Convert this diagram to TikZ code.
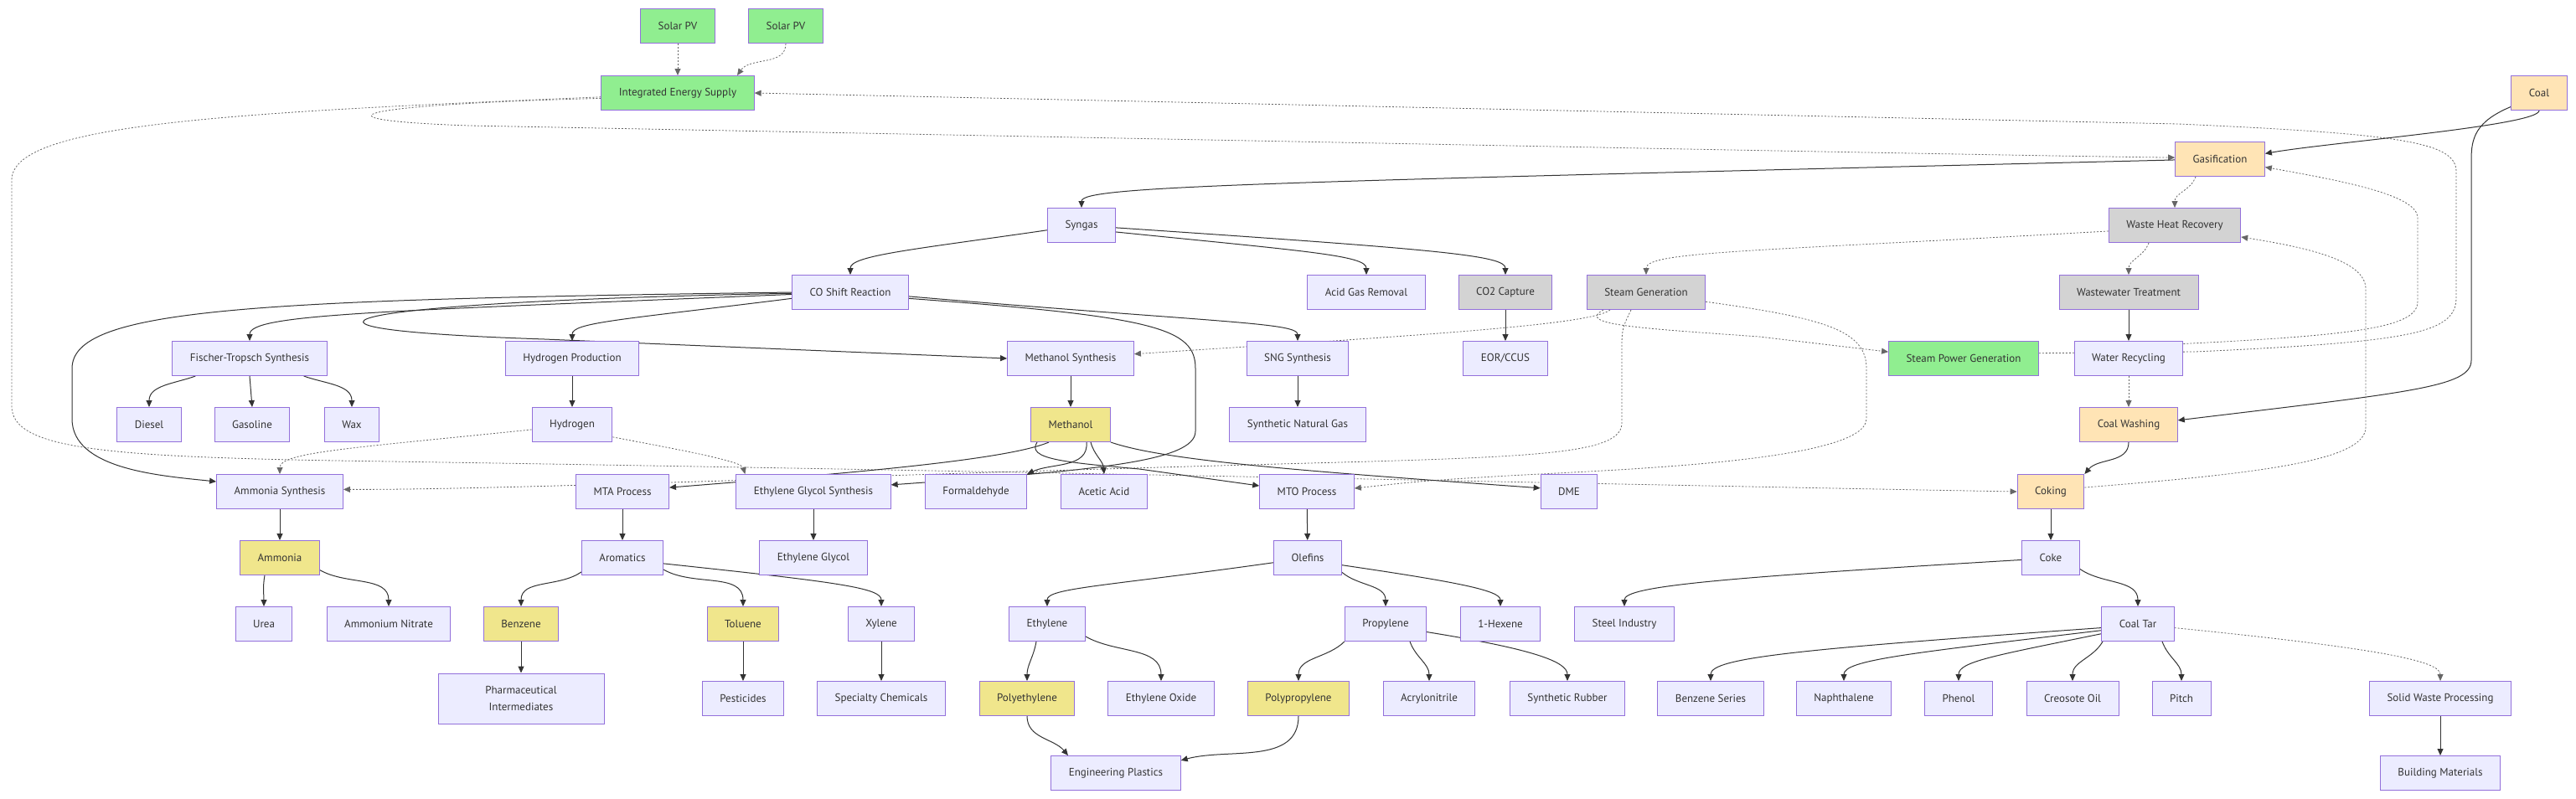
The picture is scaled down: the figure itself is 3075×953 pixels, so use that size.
\documentclass[tikz,border=0pt]{standalone}
\usepackage{fontspec}
\setmainfont{PT Sans}
\usepackage{xcolor}
\usepackage{tikz}
\usetikzlibrary{arrows.meta}
\definecolor{procfill}{HTML}{ECECFF}
\definecolor{procline}{HTML}{9370DB}
\definecolor{energyfill}{HTML}{90EE90}
\definecolor{feedfill}{HTML}{FFE4B5}
\definecolor{utilfill}{HTML}{D3D3D3}
\definecolor{productfill}{HTML}{F0E68C}
\definecolor{textgray}{HTML}{333333}
\definecolor{linegray}{HTML}{333333}
\definecolor{dotgray}{HTML}{666666}
\pgfdeclarelayer{edges}
\pgfsetlayers{edges,main}
\tikzset{
    box/.style={draw=procline, line width=1pt, rectangle, minimum height=41pt, inner xsep=21pt, inner ysep=0pt, text=textgray, font=\fontsize{13}{15}\selectfont},
    proc/.style={box, fill=procfill},
    energy/.style={box, fill=energyfill},
    feed/.style={box, fill=feedfill},
    util/.style={box, fill=utilfill},
    product/.style={box, fill=productfill},
    arrow/.style={draw=linegray, line width=1pt, -{Triangle[length=8pt,width=7pt]}},
    dotarrow/.style={draw=dotgray, line width=0.8pt, dash pattern=on 2pt off 2pt, -{Triangle[length=8pt,width=7pt]}}
}

\begin{document}
\begin{tikzpicture}[x=1pt, y=1pt]
\useasboundingbox (0,0) rectangle (3075,-953);

\node [energy]  (solarA)     at (809,-31)   {Solar PV};
\node [energy]  (solarB)     at (938,-31)   {Solar PV};
\node [energy]  (ies)        at (809,-111)  {Integrated Energy Supply};
\node [feed]    (coal)       at (3031,-111) {Coal};
\node [feed]    (gasif)      at (2650,-190) {Gasification};
\node [proc]    (syngas)     at (1291,-269) {Syngas};
\node [util]    (whr)        at (2596,-269) {Waste Heat Recovery};

\node [proc]    (coshift)    at (1015,-349) {CO Shift Reaction};
\node [proc]    (acidgas)    at (1631,-349) {Acid Gas Removal};
\node [util]    (cocap)      at (1797,-349) {CO2 Capture};
\node [util]    (steamgen)   at (1965,-349) {Steam Generation};
\node [util]    (wwt)        at (2541,-349) {Wastewater Treatment};

\node [proc]    (ftsyn)      at (298,-428)  {Fischer-Tropsch Synthesis};
\node [proc]    (h2prod)     at (683,-428)  {Hydrogen Production};
\node [proc]    (meohsyn)    at (1278,-428) {Methanol Synthesis};
\node [proc]    (sngsyn)     at (1549,-428) {SNG Synthesis};
\node [proc]    (eor)        at (1797,-428) {EOR/CCUS};
\node [energy]  (spg)        at (2344,-428) {Steam Power Generation};
\node [proc]    (waterrec)   at (2541,-428) {Water Recycling};

\node [proc]    (diesel)     at (178,-507)  {Diesel};
\node [proc]    (gasoline)   at (301,-507)  {Gasoline};
\node [proc]    (wax)        at (420,-507)  {Wax};
\node [proc]    (hydrogen)   at (683,-507)  {Hydrogen};
\node [product] (methanol)   at (1278,-507) {Methanol};
\node [proc]    (sng)        at (1549,-507) {Synthetic Natural Gas};
\node [feed]    (coalwash)   at (2541,-507) {Coal Washing};

\node [proc]    (nh3syn)     at (334,-587)  {Ammonia Synthesis};
\node [proc]    (mta)        at (743,-587)  {MTA Process};
\node [proc]    (egsyn)      at (971,-587)  {Ethylene Glycol Synthesis};
\node [proc]    (hcho)       at (1165,-587) {Formaldehyde};
\node [proc]    (acetic)     at (1318,-587) {Acetic Acid};
\node [proc]    (mto)        at (1560,-587) {MTO Process};
\node [proc]    (dme)        at (1873,-587) {DME};
\node [feed]    (coking)     at (2448,-587) {Coking};

\node [product] (ammonia)    at (334,-666)  {Ammonia};
\node [proc]    (aromatics)  at (743,-666)  {Aromatics};
\node [proc]    (eg)         at (971,-666)  {Ethylene Glycol};
\node [proc]    (olefins)    at (1561,-666) {Olefins};
\node [proc]    (coke)       at (2448,-666) {Coke};

\node [proc]    (urea)       at (315,-745)  {Urea};
\node [proc]    (an)         at (464,-745)  {Ammonium Nitrate};
\node [product] (benzene)    at (622,-745)  {Benzene};
\node [product] (toluene)    at (887,-745)  {Toluene};
\node [proc]    (xylene)     at (1052,-745) {Xylene};
\node [proc]    (ethylene)   at (1250,-745) {Ethylene};
\node [proc]    (propylene)  at (1654,-745) {Propylene};
\node [proc]    (hexene)     at (1791,-745) {1-Hexene};
\node [proc]    (steel)      at (1939,-745) {Steel Industry};
\node [proc]    (coaltar)    at (2552,-745) {Coal Tar};

\node [proc, minimum width=198pt, minimum height=60pt, align=center, font=\fontsize{13}{20}\selectfont]
                (pharma)     at (622,-834)  {Pharmaceutical\\Intermediates};
\node [proc]    (pesticides) at (887,-834)  {Pesticides};
\node [proc]    (specchem)   at (1052,-834) {Specialty Chemicals};
\node [product] (pe)         at (1226,-834) {Polyethylene};
\node [proc]    (eo)         at (1386,-834) {Ethylene Oxide};
\node [product] (pp)         at (1550,-834) {Polypropylene};
\node [proc]    (acn)        at (1706,-834) {Acrylonitrile};
\node [proc]    (rubber)     at (1871,-834) {Synthetic Rubber};
\node [proc]    (bzseries)   at (2042,-834) {Benzene Series};
\node [proc]    (naph)       at (2201,-834) {Naphthalene};
\node [proc]    (phenol)     at (2338,-834) {Phenol};
\node [proc]    (creosote)   at (2474,-834) {Creosote Oil};
\node [proc]    (pitch)      at (2604,-834) {Pitch};
\node [proc]    (swp)        at (2913,-834) {Solid Waste Processing};

\node [proc]    (plastics)   at (1332,-923) {Engineering Plastics};
\node [proc]    (buildmat)   at (2913,-923) {Building Materials};

\begin{pgfonlayer}{edges}
\draw [dotarrow] (solarA) -- (ies);
\draw [dotarrow] (solarB.south) to[out=-90, in=55] ([xshift=71pt]ies.north);
\draw [dotarrow] (ies.184) .. controls (420,-125) and (360,-143) .. (560,-150) .. controls (1500,-168) and (2400,-186) .. (gasif.178);
\draw [dotarrow] (ies.183) .. controls (250,-135) and (14,-150) .. (14,-215) -- (14,-485) .. controls (14,-535) and (120,-545) .. (400,-550) .. controls (1200,-562) and (2000,-580) .. (coking.west);
\draw [dotarrow] (spg.4) -- (2620,-420) .. controls (2880,-408) and (2932,-398) .. (2932,-355) -- (2932,-205) .. controls (2932,-170) and (2870,-160) .. (2600,-148) -- (ies.east);

\draw [arrow] (coal.south) .. controls (3031,-150) and (2780,-170) .. (gasif.7);
\draw [arrow] (coal.206) .. controls (2955,-145) and (2950,-165) .. (2950,-190) -- (2950,-430) .. controls (2950,-462) and (2880,-468) .. (coalwash.5);
\draw [arrow] (gasif.181) .. controls (1500,-218) and (1291,-222) .. (syngas.north);
\draw [dotarrow] ([xshift=-29pt]gasif.south) to[out=-110, in=90] (whr.north);
\draw [dotarrow] (whr.185) .. controls (2100,-300) and (1965,-300) .. (steamgen.north);
\draw [dotarrow] ([xshift=-31pt]whr.south) to[out=-110, in=90] (wwt.north);

\draw [arrow] (syngas.188) .. controls (1090,-298) and (1015,-305) .. (coshift.north);
\draw [arrow] (syngas.-11) .. controls (1560,-300) and (1631,-305) .. (acidgas.north);
\draw [arrow] (syngas.-4) .. controls (1720,-298) and (1797,-305) .. (cocap.north);

\draw [arrow] (coshift.182) .. controls (450,-372) and (298,-375) .. (ftsyn.north);
\draw [arrow] (coshift.186) .. controls (740,-382) and (683,-385) .. (h2prod.north);
\draw [arrow] (coshift.181) .. controls (420,-360) and (260,-392) .. (650,-405) -- (meohsyn.west);
\draw [arrow] (coshift.-4) .. controls (1450,-385) and (1549,-385) .. (sngsyn.north);
\draw [arrow] (coshift.180) .. controls (300,-358) and (86,-368) .. (86,-440) -- (86,-500) .. controls (86,-560) and (190,-568) .. (nh3syn.171);
\draw [arrow] (coshift.-6) .. controls (1380,-378) and (1427,-392) .. (1427,-440) -- (1427,-515) .. controls (1427,-552) and (1300,-562) .. (egsyn.5);

\draw [dotarrow] ([xshift=-43pt]steamgen.south) .. controls (1900,-388) and (1700,-400) .. (meohsyn.4);
\draw [dotarrow] ([xshift=-51pt]steamgen.south) .. controls (1880,-388) and (1960,-392) .. (2100,-402) -- (spg.175);
\draw [dotarrow] ([xshift=-18pt]steamgen.south) .. controls (1940,-385) and (1936,-390) .. (1936,-410) -- (1936,-505) .. controls (1936,-540) and (1850,-545) .. (1600,-552) .. controls (1000,-568) and (600,-585) .. (nh3syn.2);
\draw [dotarrow] (steamgen.-9) .. controls (2180,-380) and (2228,-395) .. (2228,-440) -- (2228,-500) .. controls (2228,-550) and (1950,-560) .. (1800,-568) .. controls (1700,-574) .. (mto.4);

\draw [arrow] (cocap) -- (eor);
\draw [arrow] (wwt) -- (waterrec);
\draw [dotarrow] (waterrec) -- (coalwash);
\draw [dotarrow] (waterrec.15) .. controls (2820,-400) and (2886,-390) .. (2886,-360) -- (2886,-260) .. controls (2886,-232) and (2790,-215) .. (gasif.-10);
\draw [arrow] (coalwash.south) to[out=-90, in=50] (coking.north east);
\draw [dotarrow] (coking.7) .. controls (2700,-565) and (2824,-550) .. (2824,-510) -- (2824,-345) .. controls (2824,-310) and (2750,-295) .. (whr.-10);

\draw [arrow] (ftsyn.198) to[out=200, in=90] (diesel.north);
\draw [arrow] (ftsyn.south) -- (gasoline.north);
\draw [arrow] (ftsyn.-18) to[out=-20, in=90] (wax.north);
\draw [arrow] (h2prod) -- (hydrogen);
\draw [dotarrow] (hydrogen.187) .. controls (420,-535) and (334,-540) .. (nh3syn.north);
\draw [dotarrow] (hydrogen.-17) .. controls (800,-535) and (885,-550) .. ([xshift=11pt]egsyn.north west);
\draw [arrow] (meohsyn) -- (methanol);
\draw [arrow] (sngsyn) -- (sng);

\draw [arrow] ([xshift=-26pt]methanol.south) .. controls (1200,-550) and (1000,-566) .. (mta.5);
\draw [arrow] ([xshift=19pt]methanol.south) to[out=-85, in=25] (hcho.north east);
\draw [arrow] ([xshift=24pt]methanol.south) to[out=-75, in=95] (acetic.north);
\draw [arrow] ([xshift=-40pt]methanol.south) .. controls (1225,-548) and (1270,-552) .. (1360,-560) -- (mto.173);
\draw [arrow] (methanol.south east) .. controls (1390,-550) and (1550,-562) .. (dme.173);

\draw [arrow] (nh3syn) -- (ammonia);
\draw [arrow] ([xshift=-18pt]ammonia.south) to[out=-100, in=90] (urea.north);
\draw [arrow] (ammonia.-17) to[out=-30, in=90] (an.north);
\draw [arrow] (mta) -- (aromatics);
\draw [arrow] (aromatics.199) to[out=-145, in=90] (benzene.north);
\draw [arrow] (aromatics.-16) to[out=-30, in=90] (toluene.north);
\draw [arrow] (aromatics.-8) .. controls (1000,-695) and (1052,-702) .. (xylene.north);
\draw [arrow] (benzene) -- (pharma);
\draw [arrow] (toluene) -- (pesticides);
\draw [arrow] (xylene) -- (specchem);
\draw [arrow] (egsyn) -- (eg);

\draw [arrow] (mto) -- (olefins);
\draw [arrow] (olefins.188) .. controls (1320,-700) and (1250,-702) .. (ethylene.north);
\draw [arrow] (olefins.-23) to[out=-40, in=90] (propylene.north);
\draw [arrow] (olefins.-12) .. controls (1740,-695) and (1791,-705) .. (hexene.north);
\draw [arrow] ([xshift=-13pt]ethylene.south) to[out=-100, in=90] (pe.north);
\draw [arrow] (ethylene.-18) to[out=-30, in=90] (eo.north);
\draw [arrow] (propylene.south west) to[out=-135, in=90] (pp.north);
\draw [arrow] ([xshift=29pt]propylene.south) to[out=-70, in=90] (acn.north);
\draw [arrow] (propylene.-11) .. controls (1830,-775) and (1871,-790) .. (rubber.north);
\draw [arrow] (pe.south) to[out=-90, in=130] ([xshift=-57pt]plastics.north);
\draw [arrow] (pp.south) to[out=-90, in=15] (plastics.11);

\draw [arrow] (coking) -- (coke);
\draw [arrow] (coke.184) .. controls (2050,-690) and (1939,-700) .. (steel.north);
\draw [arrow] (coke.-21) to[out=-35, in=90] (coaltar.north);
\draw [arrow] (coaltar.186) .. controls (2150,-775) and (2042,-785) .. (bzseries.north);
\draw [arrow] (coaltar.190) .. controls (2280,-780) and (2201,-788) .. (naph.north);
\draw [arrow] (coaltar.195) .. controls (2380,-783) and (2338,-790) .. (phenol.north);
\draw [arrow] ([xshift=-42pt]coaltar.south) to[out=-120, in=90] (creosote.north);
\draw [arrow] ([xshift=29pt]coaltar.south) to[out=-70, in=90] (pitch.north);
\draw [dotarrow] (coaltar.-6) .. controls (2850,-775) and (2913,-790) .. (swp.north);
\draw [arrow] (swp) -- (buildmat);
\end{pgfonlayer}

\end{tikzpicture}
\end{document}
